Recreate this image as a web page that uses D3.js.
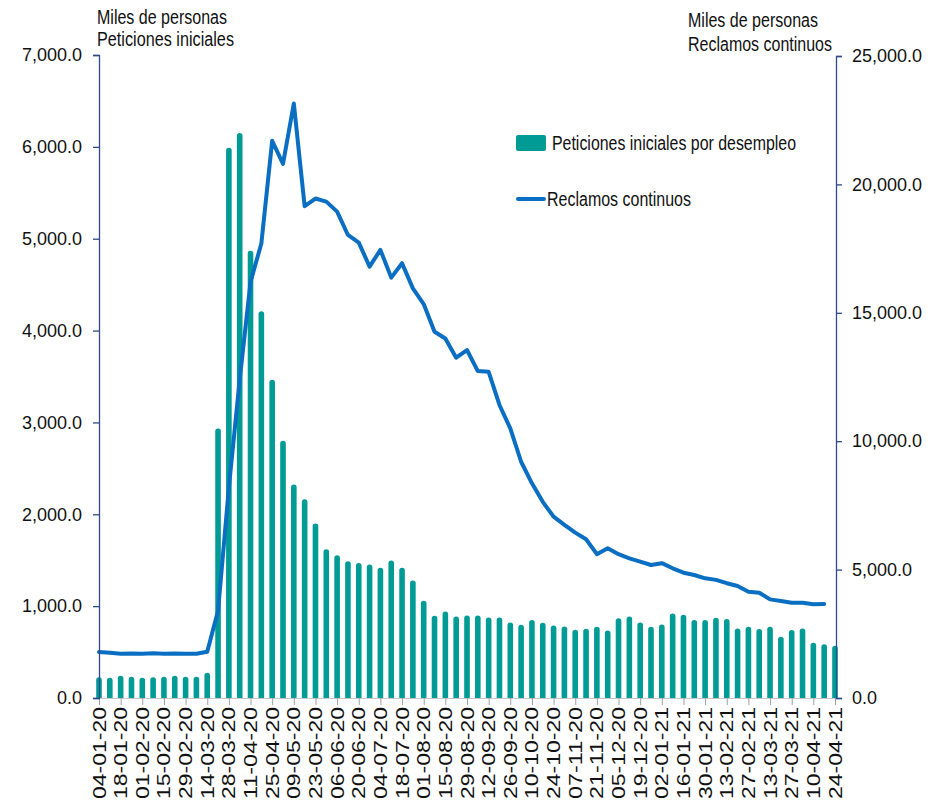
<!DOCTYPE html>
<html>
<head>
<meta charset="utf-8">
<script src="https://cdn.jsdelivr.net/npm/d3@7"></script>
<style>
  html, body { margin: 0; padding: 0; background: #fff; }
  svg { display: block; }
  .narrow { font-family: "Liberation Sans Narrow", "Arial Narrow", "Liberation Sans", Arial, sans-serif; }
  .reg { font-family: "Liberation Sans", Arial, sans-serif; }
</style>
</head>
<body>
<svg id="chart" width="931" height="807"></svg>
<script>
// Weekly dates (week ending), dd-mm-yy
const weeks = [
  "04-01-20","11-01-20","18-01-20","25-01-20","01-02-20","08-02-20","15-02-20","22-02-20","29-02-20",
  "07-03-20","14-03-20","21-03-20","28-03-20","04-04-20","11-04-20","18-04-20","25-04-20",
  "02-05-20","09-05-20","16-05-20","23-05-20","30-05-20","06-06-20","13-06-20","20-06-20","27-06-20",
  "04-07-20","11-07-20","18-07-20","25-07-20","01-08-20","08-08-20","15-08-20","22-08-20","29-08-20",
  "05-09-20","12-09-20","19-09-20","26-09-20","03-10-20","10-10-20","17-10-20","24-10-20","31-10-20",
  "07-11-20","14-11-20","21-11-20","28-11-20","05-12-20","12-12-20","19-12-20","26-12-20",
  "02-01-21","09-01-21","16-01-21","23-01-21","30-01-21","06-02-21","13-02-21","20-02-21","27-02-21",
  "06-03-21","13-03-21","20-03-21","27-03-21","03-04-21","10-04-21","17-04-21","24-04-21"
];

// Initial unemployment claims, thousands of people
const initialClaims = [
  225, 221, 242, 232, 221, 225, 232, 242, 232, 232, 275, 2935, 5990, 6150, 4870, 4210, 3464,
  2800, 2323, 2163, 1899, 1620, 1554, 1489, 1471, 1453, 1417, 1497, 1417, 1279, 1058, 895, 942,
  888, 899, 899, 877, 877, 822, 797, 848, 819, 790, 779, 743, 754, 775, 736, 868, 886, 822, 775,
  801, 920, 906, 848, 848, 873, 859, 757, 775, 750, 775, 666, 739, 757, 601, 584, 568
];

// Continuing claims, thousands of people (one week behind initial claims)
const continuingClaims = [
  1790, 1760, 1720, 1730, 1720, 1740, 1720, 1730, 1720, 1720, 1800, 3400, 8200, 12400, 16200, 17700,
  21700, 20800, 23150, 19150, 19450, 19330, 18940, 18030, 17730, 16800, 17450, 16370, 16930, 15950,
  15340, 14260, 14000, 13250, 13550, 12730, 12700, 11410, 10500, 9200, 8360, 7640, 7060, 6740, 6440,
  6180, 5600, 5830, 5600, 5440, 5310, 5180, 5250, 5050, 4880, 4790, 4660, 4600, 4470, 4360, 4140,
  4100, 3840, 3780, 3710, 3710, 3650, 3660
];

// Axis ticks
const leftTicks = [0, 1000, 2000, 3000, 4000, 5000, 6000, 7000];
const rightTicks = [0, 5000, 10000, 15000, 20000, 25000];
const xTickLabels = weeks.filter((d, i) => i % 2 === 0);

const leftTitle = ["Miles de personas", "Peticiones iniciales"];
const rightTitle = ["Miles de personas", "Reclamos continuos"];
const seriesNames = ["Peticiones iniciales por desempleo", "Reclamos continuos"];

const barColor = "#009b95";
const lineColor = "#0a6fc2";
const axisColor = "#2c4a8c";

const svg = d3.select("#chart");
const plot = { left: 99, right: 835, top: 55, bottom: 698 };

const x = d3.scalePoint().domain(weeks).range([plot.left, plot.right]);
const yL = d3.scaleLinear().domain([0, 7000]).range([plot.bottom, plot.top]);
const yR = d3.scaleLinear().domain([0, 25000]).range([plot.bottom, plot.top + 1]);

const fmt = d3.format(",.1f");

// Horizontal base line and x ticks
svg.append("line")
  .attr("x1", plot.left).attr("x2", plot.right + 1)
  .attr("y1", plot.bottom + 0.5).attr("y2", plot.bottom + 0.5)
  .attr("stroke", "#c8c8c8").attr("stroke-width", 1);

const xAxis = svg.append("g")
  .attr("transform", `translate(0,${plot.bottom})`)
  .call(d3.axisBottom(x).tickValues(xTickLabels).tickSize(7).tickFormat(""));
xAxis.select(".domain").remove();
xAxis.selectAll(".tick line").attr("stroke", "#a0a0a0");

svg.append("g").selectAll("text")
  .data(xTickLabels)
  .join("text")
  .attr("class", "reg")
  .attr("font-size", 18.5)
  .attr("fill", "#111")
  .attr("text-anchor", "end")
  .attr("textLength", 92)
  .attr("lengthAdjust", "spacingAndGlyphs")
  .attr("transform", d => `translate(${x(d) + 6.5},${plot.bottom + 9}) rotate(-90)`)
  .text(d => d);

// Bars with rounded tops
const barW = 5.6;
const r = barW / 2;
svg.append("g").selectAll("path")
  .data(initialClaims)
  .join("path")
  .attr("fill", barColor)
  .attr("d", (v, i) => {
    const cx = x(weeks[i]);
    const x0 = cx - barW / 2, x1 = cx + barW / 2;
    const yt = yL(v), yb = yL(0);
    const p = d3.path();
    p.moveTo(x0, yb);
    p.lineTo(x0, yt + r);
    p.arc(cx, yt + r, r, Math.PI, 0);
    p.lineTo(x1, yb);
    p.closePath();
    return p.toString();
  });

// Continuing claims line
const line = d3.line()
  .x((v, i) => x(weeks[i]))
  .y(v => yR(v));
svg.append("path")
  .datum(continuingClaims)
  .attr("fill", "none")
  .attr("stroke", lineColor)
  .attr("stroke-width", 4)
  .attr("stroke-linejoin", "round")
  .attr("stroke-linecap", "round")
  .attr("d", line);

// Left axis
const leftAxis = svg.append("g")
  .attr("transform", `translate(${plot.left},0)`)
  .call(d3.axisLeft(yL).tickValues(leftTicks).tickFormat(fmt).tickSize(6).tickPadding(11));
leftAxis.select(".domain").attr("stroke", axisColor).attr("stroke-width", 1.3);
leftAxis.selectAll(".tick line").attr("stroke", axisColor).attr("stroke-width", 1.3);
leftAxis.selectAll(".tick text")
  .attr("class", "reg").attr("font-size", 18).attr("fill", "#111");

// Right axis
const rightAxis = svg.append("g")
  .attr("transform", `translate(${plot.right + 1},0)`)
  .call(d3.axisRight(yR).tickValues(rightTicks).tickFormat(fmt).tickSize(6).tickPadding(10));
rightAxis.select(".domain").attr("stroke", axisColor).attr("stroke-width", 1.3);
rightAxis.selectAll(".tick line").attr("stroke", axisColor).attr("stroke-width", 1.3);
rightAxis.selectAll(".tick text")
  .attr("class", "reg").attr("font-size", 18).attr("fill", "#111");

// Axis titles
const titleSize = 19.5;
svg.append("text").attr("class", "narrow").attr("font-size", titleSize).attr("fill", "#111")
  .attr("x", 97).attr("y", 24).attr("textLength", 130).attr("lengthAdjust", "spacingAndGlyphs")
  .text(leftTitle[0]);
svg.append("text").attr("class", "narrow").attr("font-size", titleSize).attr("fill", "#111")
  .attr("x", 97).attr("y", 46).attr("textLength", 137).attr("lengthAdjust", "spacingAndGlyphs")
  .text(leftTitle[1]);
svg.append("text").attr("class", "narrow").attr("font-size", titleSize).attr("fill", "#111")
  .attr("x", 688).attr("y", 27).attr("textLength", 130).attr("lengthAdjust", "spacingAndGlyphs")
  .text(rightTitle[0]);
svg.append("text").attr("class", "narrow").attr("font-size", titleSize).attr("fill", "#111")
  .attr("x", 688).attr("y", 51).attr("textLength", 144).attr("lengthAdjust", "spacingAndGlyphs")
  .text(rightTitle[1]);

// Legend
const legend = svg.append("g");
legend.append("rect")
  .attr("x", 516).attr("y", 135).attr("width", 30).attr("height", 16).attr("rx", 2)
  .attr("fill", barColor);
legend.append("text").attr("class", "narrow").attr("font-size", titleSize).attr("fill", "#111")
  .attr("x", 552).attr("y", 150).attr("textLength", 244).attr("lengthAdjust", "spacingAndGlyphs")
  .text(seriesNames[0]);
legend.append("line")
  .attr("x1", 518).attr("x2", 544).attr("y1", 199).attr("y2", 199)
  .attr("stroke", lineColor).attr("stroke-width", 4).attr("stroke-linecap", "round");
legend.append("text").attr("class", "narrow").attr("font-size", titleSize).attr("fill", "#111")
  .attr("x", 547).attr("y", 206).attr("textLength", 144).attr("lengthAdjust", "spacingAndGlyphs")
  .text(seriesNames[1]);
</script>
</body>
</html>
